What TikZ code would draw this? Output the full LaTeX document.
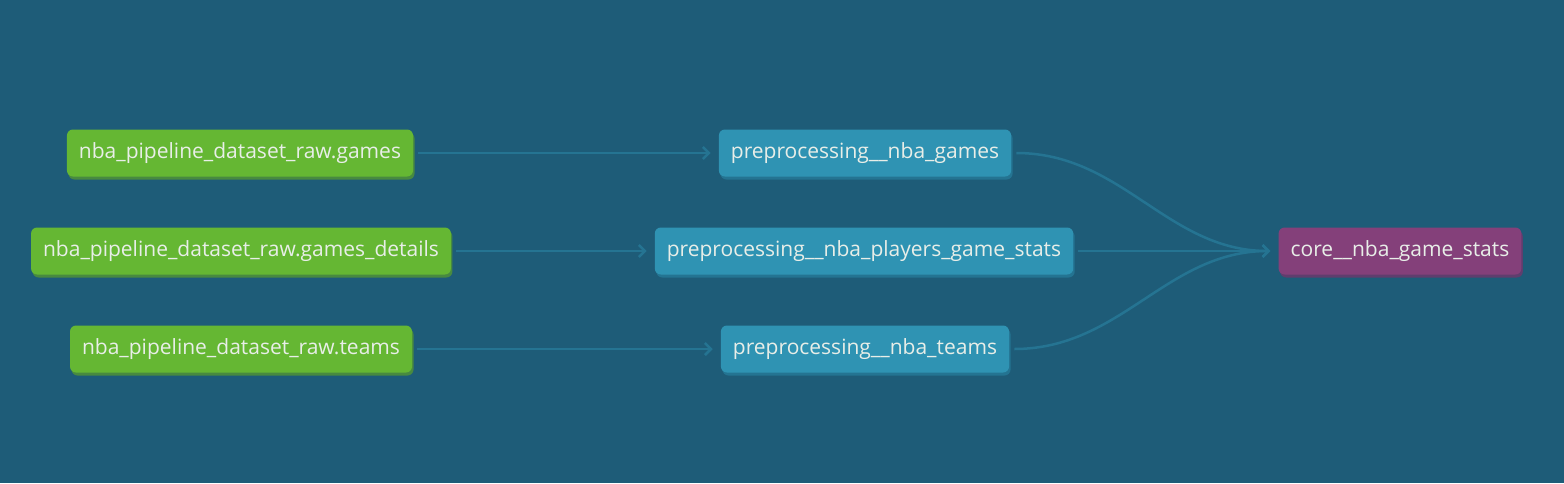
\documentclass[tikz,border=0pt]{standalone}
\usepackage{fontspec}
\setmainfont{Open Sans}
\usetikzlibrary{arrows.meta,shadows}
\definecolor{bg}{RGB}{30,92,120}
\definecolor{edgeblue}{RGB}{37,116,146}
\definecolor{srcgreen}{RGB}{101,183,51}
\definecolor{srcshadow}{RGB}{72,138,64}
\definecolor{modelblue}{RGB}{47,147,179}
\definecolor{modelshadow}{RGB}{36,116,146}
\definecolor{corepurple}{RGB}{132,64,122}
\definecolor{coreshadow}{RGB}{95,62,110}
\definecolor{labelwhite}{RGB}{232,238,232}
\tikzset{
  box/.style={rounded corners=6pt, minimum height=47pt, inner xsep=12pt,
    text=labelwhite, font=\fontsize{21}{24}\selectfont},
  source/.style={box, fill=srcgreen,
    drop shadow={shadow xshift=1.5pt, shadow yshift=-3pt, fill=srcshadow, opacity=1}},
  model/.style={box, fill=modelblue,
    drop shadow={shadow xshift=1.5pt, shadow yshift=-3pt, fill=modelshadow, opacity=1}},
  core/.style={box, fill=corepurple,
    drop shadow={shadow xshift=1.5pt, shadow yshift=-3pt, fill=coreshadow, opacity=1}},
}
\begin{document}
\begin{tikzpicture}[x=1pt,y=-1pt]
  \fill[bg] (0,0) rectangle (1564,483);
  \useasboundingbox (0,0) rectangle (1564,483);
  \draw
    (240,153) node[source] (rawgames){nba\_pipeline\_dataset\_raw.games}
    (241,251) node[source] (rawdetails){nba\_pipeline\_dataset\_raw.games\_details}
    (241,349) node[source] (rawteams){nba\_pipeline\_dataset\_raw.teams}
    (865,153) node[model] (prepgames){preprocessing\_\_nba\_games}
    (864,251) node[model] (prepplayers){preprocessing\_\_nba\_players\_game\_stats}
    (865,349) node[model] (prepteams){preprocessing\_\_nba\_teams}
    (1400,251) node[core] (core){core\_\_nba\_game\_stats};
  \begin{scope}[-{Straight Barb[length=6pt,width=12pt]}, edgeblue, line width=2.5pt,
      shorten <=5pt, shorten >=8pt]
    \draw (rawgames) to (prepgames);
    \draw (rawdetails) to (prepplayers);
    \draw (rawteams) to (prepteams);
    \draw (prepgames.east) to[out=0,in=180] (core.west);
    \draw (prepplayers.east) to (core.west);
    \draw (prepteams.east) to[out=0,in=180] (core.west);
  \end{scope}
\end{tikzpicture}
\end{document}
